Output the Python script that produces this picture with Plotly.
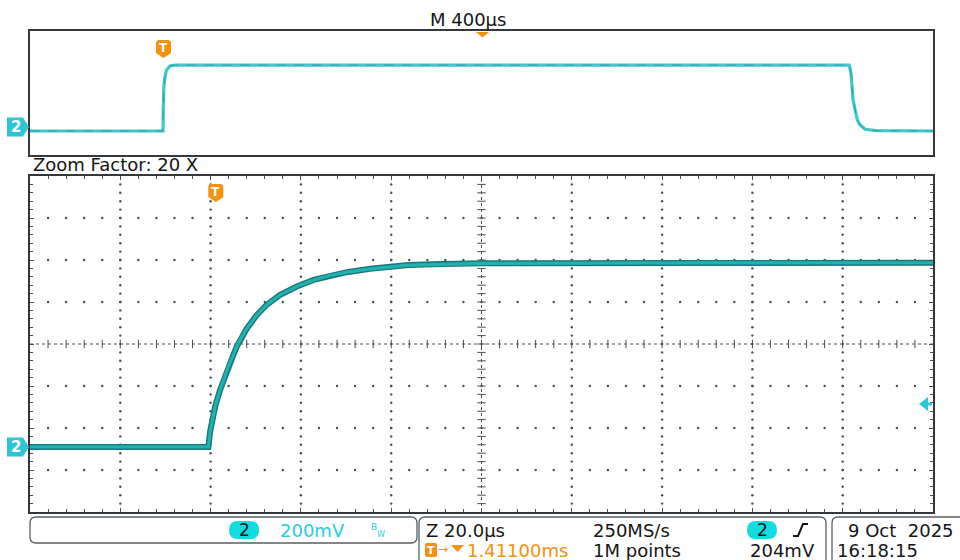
import numpy as np
import plotly.graph_objects as go

W, H = 960, 560

# ---------------- data ----------------
# Zoomed window, channel 2: time relative to trigger (µs), voltage (mV)
zoom_time_us = [-41.2, -20.0, -1.7, -1.3, -0.95, -0.2, 0.9, 1.8, 2.7, 3.8, 4.6, 5.7,
                6.8, 9.0, 11.2, 14.2, 17.9, 21.6, 25.3, 29.0, 34.1, 42.6, 50.0,
                58.9, 107.0, 158.8]
zoom_volt_mv = [0, 0, 0, 73, 112, 192, 271, 327, 381, 436, 478, 523,
                563, 627, 676, 724, 764, 795, 816, 832, 848, 866, 871,
                874, 876, 877]

# Full record (upper overview), channel 2
main_time_us = [-589, 0, 1.5, 4, 9, 16, 31, 53, 1500, 3040, 3048, 3052, 3057,
                3066, 3076, 3088, 3110, 3160, 3411]
main_volt_mv = [0, 0, 300, 590, 720, 810, 863, 876, 876, 876, 760, 590, 415,
                281, 147, 80, 23, 5, 0]

# scope settings / labels
main_scale_label = "M 400µs"
zoom_factor_label = "Zoom Factor: 20 X"
ch_label = "2"
ch_scale_label = "200mV"
zoom_scale_label = "Z 20.0µs"
position_label = "1.41100ms"
sample_rate_label = "250MS/s"
record_label = "1M points"
trigger_level_label = "204mV"
date_label = "9 Oct\u00a0 2025"
time_label = "16:18:15"

ZOOM_T_DIV = 20.0      # µs/div
MAIN_T_DIV = 400.0     # µs/div
V_DIV = 200.0          # mV/div
TRIG_LEVEL_MV = 204.0

zx0 = -41.2
zx1 = zx0 + 10 * ZOOM_T_DIV
zy0 = -310.0
zy1 = zy0 + 8 * V_DIV
mx0 = -589.0
mx1 = mx0 + 10 * MAIN_T_DIV
my0, my1 = -319.0, 1328.0

# pixel boxes of the two graticules
TOP_BOX = (30, 31, 933, 155)
MAIN_BOX = (30, 176, 933, 512)

def fx(x):
    return x / W

def fy(y):
    return 1 - y / H

def y_main_px(v):
    return MAIN_BOX[3] - (v - zy0) / (zy1 - zy0) * (MAIN_BOX[3] - MAIN_BOX[1])

def poly(pts):
    s = "M %.5f,%.5f " % (fx(pts[0][0]), fy(pts[0][1]))
    for p in pts[1:]:
        s += "L %.5f,%.5f " % (fx(p[0]), fy(p[1]))
    return s + "Z"

def rrect(x0, y0, x1, y1, r):
    P = lambda x, y: "%.5f,%.5f" % (fx(x), fy(y))
    return ("M " + P(x0 + r, y0) + " L " + P(x1 - r, y0) + " Q " + P(x1, y0) + " " + P(x1, y0 + r) +
            " L " + P(x1, y1 - r) + " Q " + P(x1, y1) + " " + P(x1 - r, y1) +
            " L " + P(x0 + r, y1) + " Q " + P(x0, y1) + " " + P(x0, y1 - r) +
            " L " + P(x0, y0 + r) + " Q " + P(x0, y0) + " " + P(x0 + r, y0) + " Z")

FONT = "DejaVu Sans"

def txt(s, x, y, size=18, color="#151515", anchor="center"):
    return dict(text=s, x=fx(x), y=fy(y), xref="paper", yref="paper", showarrow=False,
                xanchor=anchor, yanchor="middle",
                font=dict(family=FONT, size=size, color=color))

fig = go.Figure()

# ---------------- graticule dots of the zoom window ----------------
GRID_C = "#46505c"
gx, gy = [], []
for k in range(1, 10):
    if k == 5:
        continue
    xv = zx0 + k * ZOOM_T_DIV
    for m in range(1, 40):
        gx.append(xv)
        gy.append(zy0 + m * V_DIV / 5)
for j in range(1, 8):
    if j == 4:
        continue
    yv = zy0 + j * V_DIV
    for m in range(1, 50):
        gx.append(zx0 + m * ZOOM_T_DIV / 5)
        gy.append(yv)
fig.add_trace(go.Scatter(x=gx, y=gy, mode="markers", xaxis="x2", yaxis="y2",
                         marker=dict(size=2.4, color=GRID_C), hoverinfo="skip",
                         showlegend=False))

xc = zx0 + 5 * ZOOM_T_DIV
yc = zy0 + 4 * V_DIV
hx = [zx0 + m * ZOOM_T_DIV / 5 for m in range(1, 50)]
fig.add_trace(go.Scatter(x=hx, y=[yc] * len(hx), mode="markers", xaxis="x2", yaxis="y2",
                         marker=dict(symbol="line-ns", size=6, line=dict(width=1, color=GRID_C)),
                         hoverinfo="skip", showlegend=False))
vy = [zy0 + m * V_DIV / 5 for m in range(1, 40)]
fig.add_trace(go.Scatter(x=[xc] * len(vy), y=vy, mode="markers", xaxis="x2", yaxis="y2",
                         marker=dict(symbol="line-ew", size=6, line=dict(width=1, color=GRID_C)),
                         hoverinfo="skip", showlegend=False))

# ---------------- waveforms ----------------
fig.add_trace(go.Scatter(x=zoom_time_us, y=zoom_volt_mv, mode="lines", xaxis="x2", yaxis="y2",
                         line=dict(color="#17797a", width=6), hoverinfo="skip", showlegend=False))
fig.add_trace(go.Scatter(x=zoom_time_us, y=zoom_volt_mv, mode="lines", xaxis="x2", yaxis="y2",
                         line=dict(color="#22b0b1", width=3.2), hoverinfo="skip", showlegend=False))

fig.add_trace(go.Scatter(x=main_time_us, y=main_volt_mv, mode="lines", xaxis="x", yaxis="y",
                         line=dict(color="#3cc8ce", width=3.2), hoverinfo="skip", showlegend=False))
fig.add_trace(go.Scatter(x=main_time_us, y=main_volt_mv, mode="lines", xaxis="x", yaxis="y",
                         line=dict(color="#2b6b6d", width=0.8, dash="dash"), opacity=0.55,
                         hoverinfo="skip", showlegend=False))

# ---------------- shapes ----------------
shapes = []
# center cross lines (dense dotted)
shapes.append(dict(type="line", xref="x2", yref="y2", x0=zx0, x1=zx1, y0=yc, y1=yc,
                   line=dict(color=GRID_C, width=1, dash="dot"), layer="below"))
shapes.append(dict(type="line", xref="x2", yref="y2", x0=xc, x1=xc, y0=zy0, y1=zy1,
                   line=dict(color=GRID_C, width=1, dash="dot"), layer="below"))

CYAN_BADGE = "#2cc6d6"
ORANGE = "#f2920f"

# channel-2 ground markers
gtop = 127
gmain = y_main_px(0)
for yy in (gtop, gmain):
    shapes.append(dict(type="path", xref="paper", yref="paper",
                       path=poly([(7, yy - 9.5), (23, yy - 9.5), (29, yy), (23, yy + 9.5), (7, yy + 9.5)]),
                       fillcolor=CYAN_BADGE, line=dict(width=0)))

# trigger "T" badges
def t_badge(cx, ytop, w=15, h=18):
    x0, x1 = cx - w / 2, cx + w / 2
    return poly([(x0, ytop + 2), (x0 + 2, ytop), (x1 - 2, ytop), (x1, ytop + 2),
                 (x1, ytop + h - 5), (cx, ytop + h), (x0, ytop + h - 5)])

shapes.append(dict(type="path", xref="paper", yref="paper", path=t_badge(163.5, 40),
                   fillcolor=ORANGE, line=dict(width=0)))
shapes.append(dict(type="path", xref="paper", yref="paper", path=t_badge(215.8, 184),
                   fillcolor=ORANGE, line=dict(width=0)))
# horizontal position marker
shapes.append(dict(type="path", xref="paper", yref="paper",
                   path=poly([(476, 32), (489, 32), (482.5, 37.5)]),
                   fillcolor=ORANGE, line=dict(width=0)))
# trigger level arrow (right edge)
ty = y_main_px(TRIG_LEVEL_MV)
shapes.append(dict(type="path", xref="paper", yref="paper",
                   path=poly([(919, ty), (928, ty - 7), (928, ty + 7)]),
                   fillcolor=CYAN_BADGE, line=dict(width=0)))
shapes.append(dict(type="line", xref="paper", yref="paper", x0=fx(925), x1=fx(932), y0=fy(ty), y1=fy(ty),
                   line=dict(color=CYAN_BADGE, width=3)))

# status bar boxes
BOX_LINE = dict(color="#5a5f66", width=1.3)
shapes.append(dict(type="path", xref="paper", yref="paper", path=rrect(30, 517, 417, 543, 6), line=BOX_LINE))
shapes.append(dict(type="path", xref="paper", yref="paper", path=rrect(419, 517, 826, 580, 6), line=BOX_LINE))
shapes.append(dict(type="path", xref="paper", yref="paper", path=rrect(832, 517, 985, 580, 6), line=BOX_LINE))

# channel pills
PILL = "#12dcdf"
for x0p in (229, 747):
    shapes.append(dict(type="path", xref="paper", yref="paper", path=rrect(x0p, 521, x0p + 30, 539, 9),
                       fillcolor=PILL, line=dict(width=0)))

# rising-edge symbol
shapes.append(dict(type="path", xref="paper", yref="paper",
                   path="M %.5f,%.5f L %.5f,%.5f L %.5f,%.5f L %.5f,%.5f" % (
                       fx(793), fy(536), fx(798), fy(536), fx(803), fy(524), fx(808), fy(524)),
                   line=dict(color="#151515", width=2)))

# small T badge + down triangle in the status bar
shapes.append(dict(type="path", xref="paper", yref="paper", path=rrect(425, 543, 437, 557, 2),
                   fillcolor=ORANGE, line=dict(width=0)))
shapes.append(dict(type="path", xref="paper", yref="paper",
                   path=poly([(451, 545), (464, 545), (457.5, 552)]),
                   fillcolor=ORANGE, line=dict(width=0)))

# ---------------- annotations ----------------
ann = []
ann.append(txt(main_scale_label, 468, 20, size=18))
ann.append(txt(zoom_factor_label, 31, 164, size=18, anchor="left"))
ann.append(txt("<b>" + ch_label + "</b>", 15.5, gtop + 0.5, size=15, color="white"))
ann.append(txt("<b>" + ch_label + "</b>", 15.5, gmain + 0.5, size=15, color="white"))
ann.append(txt("<b>T</b>", 163.5, 48, size=12, color="white"))
ann.append(txt("<b>T</b>", 215.8, 192, size=12, color="white"))

ann.append(txt(ch_label, 244, 530, size=17, color="#111"))
ann.append(txt(ch_scale_label, 312, 530, size=18, color="#27cfd9"))
ann.append(txt("B", 373.5, 526.5, size=9, color="#27cfd9"))
ann.append(txt("W", 381, 534, size=8, color="#27cfd9"))

ann.append(txt(zoom_scale_label, 424, 530, size=18, anchor="left"))
ann.append(txt("<b>T</b>", 431, 550, size=11, color="white"))
ann.append(txt("→", 443, 549, size=12, color=ORANGE))
ann.append(txt(position_label, 465, 550, size=18, color=ORANGE, anchor="left"))
ann.append(txt(sample_rate_label, 591, 530, size=18, anchor="left"))
ann.append(txt(record_label, 591, 550, size=18, anchor="left"))
ann.append(txt(ch_label, 762, 530, size=17, color="#111"))
ann.append(txt(trigger_level_label, 782, 550, size=18))
ann.append(txt(date_label, 846, 530, size=18, anchor="left"))
ann.append(txt(time_label, 835, 550, size=18, anchor="left"))

AX_LINE = "#33383d"
fig.update_layout(
    width=W, height=H,
    margin=dict(l=0, r=0, t=0, b=0),
    paper_bgcolor="white", plot_bgcolor="white",
    showlegend=False,
    xaxis=dict(domain=[fx(TOP_BOX[0]), fx(TOP_BOX[2])], range=[mx0, mx1], anchor="y",
               showgrid=False, zeroline=False, showticklabels=False, ticks="",
               showline=True, mirror=True, linecolor=AX_LINE, linewidth=2),
    yaxis=dict(domain=[fy(TOP_BOX[3]), fy(TOP_BOX[1])], range=[my0, my1], anchor="x",
               showgrid=False, zeroline=False, showticklabels=False, ticks="",
               showline=True, mirror=True, linecolor=AX_LINE, linewidth=2),
    xaxis2=dict(domain=[fx(MAIN_BOX[0]), fx(MAIN_BOX[2])], range=[zx0, zx1], anchor="y2",
                showgrid=False, zeroline=False, showticklabels=False,
                ticks="inside", ticklen=4, tickwidth=1, tickcolor=GRID_C,
                tick0=zx0, dtick=ZOOM_T_DIV,
                minor=dict(ticks="inside", ticklen=3, tickcolor=GRID_C, tick0=zx0, dtick=ZOOM_T_DIV / 5),
                showline=True, mirror="ticks", linecolor=AX_LINE, linewidth=2),
    yaxis2=dict(domain=[fy(MAIN_BOX[3]), fy(MAIN_BOX[1])], range=[zy0, zy1], anchor="x2",
                showgrid=False, zeroline=False, showticklabels=False,
                ticks="inside", ticklen=4, tickwidth=1, tickcolor=GRID_C,
                tick0=zy0, dtick=V_DIV,
                minor=dict(ticks="inside", ticklen=3, tickcolor=GRID_C, tick0=zy0, dtick=V_DIV / 5),
                showline=True, mirror="ticks", linecolor=AX_LINE, linewidth=2),
    shapes=shapes,
    annotations=ann,
)

fig.write_html("out.html")
